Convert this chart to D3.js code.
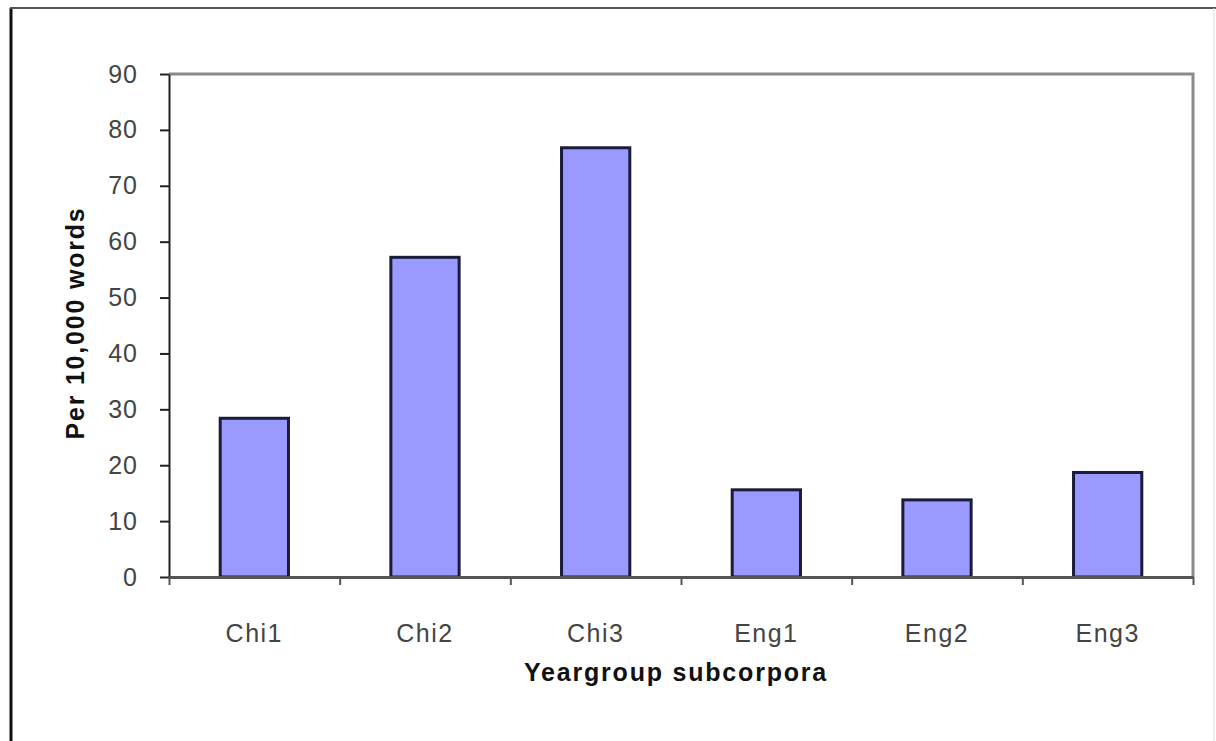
<!DOCTYPE html>
<html>
<head>
<meta charset="utf-8">
<script src="https://cdn.jsdelivr.net/npm/d3@7"></script>
<style>
  body { margin: 0; background: #fff; }
  text { font-family: "Liberation Sans", Arial, sans-serif; }
</style>
</head>
<body>
<script>
// data
const categories = ['Chi1', 'Chi2', 'Chi3', 'Eng1', 'Eng2', 'Eng3']
const values = [28.4, 57.2, 76.8, 15.6, 13.8, 18.7]
const yTicks = [0, 10, 20, 30, 40, 50, 60, 70, 80, 90]

const width = 1216
const height = 741

const svg = d3.select('body').append('svg')
  .attr('width', width)
  .attr('height', height)

// outer frame (left + top dark, right faint)
svg.append('line').attr('x1', 11).attr('y1', 8).attr('x2', 11).attr('y2', height)
  .attr('stroke', '#111').attr('stroke-width', 3)
svg.append('line').attr('x1', 10).attr('y1', 8).attr('x2', width).attr('y2', 8)
  .attr('stroke', '#555').attr('stroke-width', 2)
svg.append('line').attr('x1', 1214).attr('y1', 8).attr('x2', 1214).attr('y2', height)
  .attr('stroke', '#ddd').attr('stroke-width', 1)

const plotLeft = 169
const plotRight = 1193
const plotTop = 74
const plotBottom = 577

const x = d3.scaleBand()
  .domain(categories)
  .range([plotLeft, plotRight])
  .paddingInner(0.6)
  .paddingOuter(0.3)

const xEdge = d3.scaleLinear().domain([0, categories.length]).range([plotLeft, plotRight])

const y = d3.scaleLinear()
  .domain([0, 90])
  .range([plotBottom, plotTop])

// plot area border (top + right)
svg.append('path')
  .attr('d', `M${plotLeft},${plotTop}H${plotRight}V${plotBottom}`)
  .attr('fill', 'none')
  .attr('stroke', '#8a8a8a')
  .attr('stroke-width', 3)

// bars
svg.selectAll('rect.bar')
  .data(values)
  .join('rect')
  .attr('class', 'bar')
  .attr('x', (d, i) => x(categories[i]))
  .attr('width', x.bandwidth())
  .attr('y', d => y(d))
  .attr('height', d => y(0) - y(d))
  .attr('fill', '#9999ff')
  .attr('stroke', '#1b1b3a')
  .attr('stroke-width', 3)

// y axis
const yAxis = svg.append('g')
  .attr('transform', `translate(${plotLeft},0)`)
  .call(d3.axisLeft(y).tickValues(yTicks).tickSize(9).tickPadding(22).tickSizeOuter(0))
yAxis.select('.domain').attr('stroke', '#222').attr('stroke-width', 2)
yAxis.selectAll('.tick line').attr('stroke', '#222').attr('stroke-width', 2)
yAxis.selectAll('text').attr('font-size', 25).attr('fill', '#444')
  .attr('letter-spacing', 1)
  .attr('font-family', '"Liberation Sans", Arial, sans-serif')

// x axis: ticks at category boundaries
const xAxis = svg.append('g')
  .attr('transform', `translate(0,${plotBottom})`)
  .call(d3.axisBottom(xEdge).tickValues(d3.range(categories.length + 1)).tickSize(8).tickFormat('').tickSizeOuter(0))
xAxis.select('.domain').attr('stroke', '#555').attr('stroke-width', 3)
xAxis.selectAll('.tick line').attr('stroke', '#555').attr('stroke-width', 2)

// category labels
svg.append('g').selectAll('text')
  .data(categories)
  .join('text')
  .attr('x', d => x(d) + x.bandwidth() / 2)
  .attr('y', 642)
  .attr('text-anchor', 'middle')
  .attr('font-size', 25)
  .attr('letter-spacing', 1.5)
  .attr('fill', '#444')
  .text(d => d)

// axis titles
svg.append('text')
  .attr('x', 676)
  .attr('y', 681)
  .attr('text-anchor', 'middle')
  .attr('font-size', 25)
  .attr('font-weight', 'bold')
  .attr('letter-spacing', 1.8)
  .attr('fill', '#111')
  .text('Yeargroup subcorpora')

svg.append('text')
  .attr('transform', `translate(84,323) rotate(-90)`)
  .attr('text-anchor', 'middle')
  .attr('font-size', 25)
  .attr('font-weight', 'bold')
  .attr('letter-spacing', 1.8)
  .attr('fill', '#111')
  .text('Per 10,000 words')
</script>
</body>
</html>
